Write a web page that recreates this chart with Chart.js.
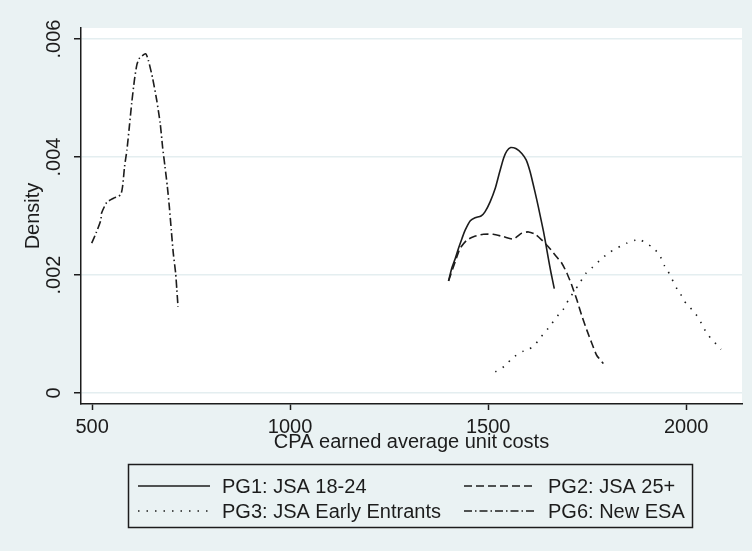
<!DOCTYPE html>
<html>
<head>
<meta charset="utf-8">
<script src="https://cdn.jsdelivr.net/npm/chart.js@4.4.1/dist/chart.umd.min.js"></script>
<style>
  html, body { margin: 0; padding: 0; background: #eaf2f3; }
  #wrap { width: 752px; height: 551px; }
</style>
</head>
<body>
<div id="wrap"><canvas id="density" width="752" height="551"></canvas></div>
<script>
// kernel density curves
var seriesNames = ['PG1: JSA 18-24', 'PG2: JSA 25+', 'PG3: JSA Early Entrants', 'PG6: New ESA'];

var pg1X = [1400, 1408, 1417, 1425, 1434, 1442, 1455, 1467, 1482, 1492, 1505, 1518, 1528, 1539, 1547, 1557, 1571, 1585, 1596, 1606, 1614, 1623, 1631, 1640, 1646, 1652, 1659, 1667];
var pg1Y = [0.00190, 0.00211, 0.00228, 0.00245, 0.00262, 0.00276, 0.00292, 0.00297, 0.00300, 0.00307, 0.00324, 0.00347, 0.00372, 0.00398, 0.00410, 0.00416, 0.00414, 0.00406, 0.00395, 0.00375, 0.00353, 0.00327, 0.00302, 0.00273, 0.00251, 0.00228, 0.00203, 0.00177];

var pg2X = [1400, 1417, 1429, 1446, 1463, 1488, 1513, 1539, 1564, 1585, 1602, 1619, 1636, 1652, 1669, 1686, 1699, 1711, 1724, 1736, 1749, 1762, 1774, 1791];
var pg2Y = [0.00190, 0.00223, 0.00245, 0.00259, 0.00265, 0.00269, 0.00269, 0.00265, 0.00261, 0.00271, 0.00273, 0.00269, 0.00259, 0.00248, 0.00234, 0.00220, 0.00203, 0.00183, 0.00158, 0.00132, 0.00107, 0.00084, 0.00064, 0.00050];

var pg3X = [1518, 1545, 1560, 1589, 1604, 1616, 1631, 1652, 1678, 1689, 1703, 1728, 1747, 1762, 1787, 1808, 1837, 1850, 1871, 1882, 1899, 1911, 1932, 1945, 1953, 1978, 1985, 1996, 2003, 2025, 2042, 2052, 2088];
var pg3Y = [0.00036, 0.00047, 0.00059, 0.00071, 0.00075, 0.00080, 0.00093, 0.00110, 0.00133, 0.00141, 0.00158, 0.00183, 0.00203, 0.00212, 0.00228, 0.00239, 0.00250, 0.00254, 0.00259, 0.00261, 0.00253, 0.00249, 0.00235, 0.00216, 0.00208, 0.00175, 0.00169, 0.00155, 0.00150, 0.00133, 0.00114, 0.00101, 0.00074];

var pg6X = [499, 510, 522, 524, 537, 554, 572, 577, 582, 588, 594, 600, 607, 613, 619, 635, 642, 653, 663, 672, 678, 684, 690, 695, 700, 705, 711, 714, 717];
var pg6Y = [0.00254, 0.00271, 0.00293, 0.00305, 0.00323, 0.00330, 0.00336, 0.00350, 0.00384, 0.00412, 0.00451, 0.00491, 0.00531, 0.00556, 0.00567, 0.00575, 0.00564, 0.00533, 0.00497, 0.00457, 0.00417, 0.00384, 0.00350, 0.00316, 0.00276, 0.00237, 0.00203, 0.00175, 0.00146];

var xTicks = [500, 1000, 1500, 2000];
var yTicks = [0, 0.002, 0.004, 0.006];

var FONT = "'Liberation Sans', Arial, sans-serif";
var INK = '#1c1c1c';

function pts(xs, ys) {
  return xs.map(function (x, i) { return { x: x, y: ys[i] }; });
}

function line(label, data, dash) {
  return {
    label: label,
    data: data,
    borderColor: INK,
    borderWidth: 1.6,
    borderDash: dash,
    pointRadius: 0,
    tension: 0.2,
    fill: false
  };
}

// white plot region like Stata's plotregion
var plotBg = {
  id: 'plotBg',
  beforeDraw: function (chart) {
    var a = chart.chartArea, c = chart.ctx;
    c.save();
    c.fillStyle = '#ffffff';
    c.fillRect(a.left, a.top, a.right - a.left, a.bottom - a.top);
    c.restore();
  }
};

// boxed two-column legend under the x title
var boxLegend = {
  id: 'boxLegend',
  afterDraw: function (chart) {
    var c = chart.ctx;
    c.save();
    c.strokeStyle = INK;
    c.lineWidth = 1.5;
    c.strokeRect(128.5, 464.5, 564, 63);
    var cols = [138, 464], rows = [486, 511];
    chart.data.datasets.forEach(function (ds, i) {
      var x = cols[i % 2], y = rows[Math.floor(i / 2)];
      c.beginPath();
      c.setLineDash(ds.borderDash || []);
      c.lineWidth = ds.borderWidth;
      c.strokeStyle = ds.borderColor;
      c.moveTo(x, y);
      c.lineTo(x + 72, y);
      c.stroke();
      c.setLineDash([]);
      c.fillStyle = INK;
      c.font = '20px ' + FONT;
      c.textBaseline = 'middle';
      c.textAlign = 'left';
      c.fillText(ds.label, x + 84, y + 1);
    });
    c.restore();
  }
};

var ctx = document.getElementById('density').getContext('2d');
var myChart = new Chart(ctx, {
  type: 'line',
  data: {
    datasets: [
      line(seriesNames[0], pts(pg1X, pg1Y), []),
      line(seriesNames[1], pts(pg2X, pg2Y), [8, 4]),
      line(seriesNames[2], pts(pg3X, pg3Y), [1.5, 7]),
      line(seriesNames[3], pts(pg6X, pg6Y), [8, 3, 1.5, 3])
    ]
  },
  plugins: [plotBg, boxLegend],
  options: {
    responsive: false,
    animation: false,
    layout: { padding: { left: 0, right: 10, top: 28, bottom: 97 } },
    plugins: {
      legend: { display: false },
      tooltip: { enabled: false }
    },
    scales: {
      x: {
        type: 'linear',
        min: 472,
        max: 2141,
        afterBuildTicks: function (s) { s.ticks = xTicks.map(function (v) { return { value: v }; }); },
        afterFit: function (s) { s.height = 50; },
        border: { color: INK, width: 1.5 },
        grid: { drawOnChartArea: false, tickLength: 6, tickColor: INK, tickWidth: 1.5 },
        ticks: {
          color: INK,
          font: { family: FONT, size: 20 },
          padding: 5,
          maxRotation: 0,
          autoSkip: false,
          callback: function (v) { return String(v); }
        },
        title: {
          display: true,
          text: 'CPA earned average unit costs',
          color: INK,
          font: { family: FONT, size: 20 },
          padding: 0
        }
      },
      y: {
        type: 'linear',
        min: -0.000186,
        max: 0.006186,
        afterBuildTicks: function (s) { s.ticks = yTicks.map(function (v) { return { value: v }; }); },
        afterFit: function (s) { s.width = 81; },
        border: { color: INK, width: 1.5 },
        grid: { color: '#e4eef0', lineWidth: 1.5, tickLength: 7, tickColor: INK, tickWidth: 1.5 },
        ticks: {
          color: INK,
          font: { family: FONT, size: 20 },
          minRotation: 90,
          maxRotation: 90,
          crossAlign: 'center',
          padding: 0,
          callback: function (v) { return v === 0 ? '0' : String(+v.toFixed(3)).replace(/^0/, ''); }
        },
        title: {
          display: true,
          text: 'Density',
          color: INK,
          font: { family: FONT, size: 20 },
          padding: { top: 21, bottom: 0 }
        }
      }
    }
  }
});
</script>
</body>
</html>
